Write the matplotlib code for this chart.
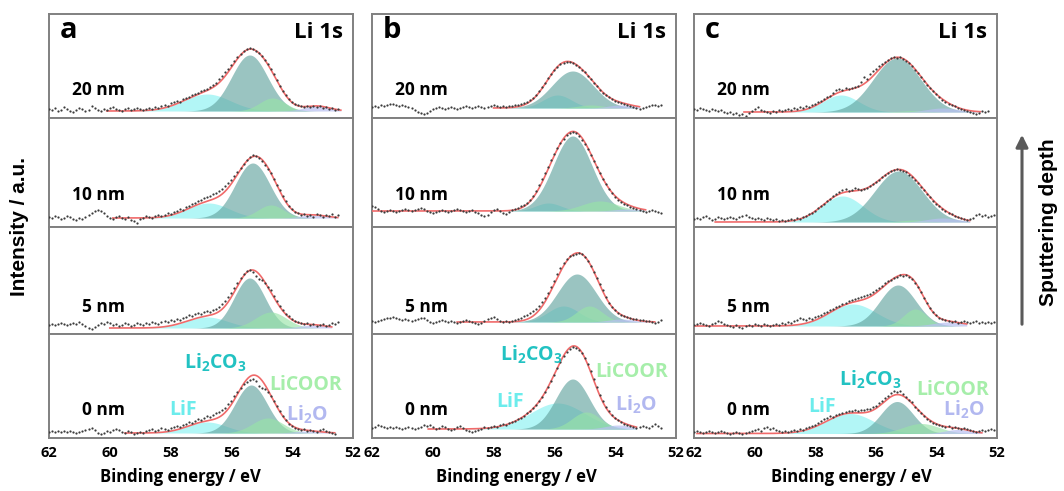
import numpy as np
import matplotlib
matplotlib.use("Agg")
import matplotlib.pyplot as plt

plt.rcParams['font.family'] = ['Open Sans', 'DejaVu Sans']
plt.rcParams['font.weight'] = 'bold'
plt.rcParams['mathtext.fontset'] = 'custom'
plt.rcParams['mathtext.rm'] = 'Open Sans:bold'
plt.rcParams['mathtext.bf'] = 'Open Sans:bold'

# ---------------- data ----------------
columns = ['a', 'b', 'c']
depths = ['20 nm', '10 nm', '5 nm', '0 nm']
x_ticks = [62, 60, 58, 56, 54, 52]
E_START = 62.0   # first binding energy of each scan (eV)
E_STEP = 0.1     # scan step (eV)

# measured intensities (arbitrary units), one list per panel, from 62.0 eV downward
dots_a_20 = [9,8,10,7,8,11,9,7,6,8, 10,9,7,8,12,10,8,7,9,8, 10,11,9,8,7,9,10,8,9,10,
             9,8,9,10,9,11,10,12,13,12, 15,16,17,16,19,20,21,23,24,25, 27,28,29,31,33,35,39,42,46,49,
             53,57,61,64,67,69,70,69,67,65, 62,58,54,49,44,38,32,27,23,19, 16,14,13,12,11,12,11,12,11,12,
             10,11,9,10,8,9]
dots_a_10 = [10,9,11,10,8,9,11,10,8,7, 9,8,10,12,14,16,17,16,14,11, 9,8,10,11,9,8,10,7,6,4,
             8,9,11,10,9,11,12,11,12,14, 13,15,16,18,17,20,21,23,24,26, 27,29,30,31,33,34,36,38,41,44,
             47,51,55,59,63,67,70,72,71,69, 66,62,58,54,48,42,37,31,26,21, 18,15,14,12,13,11,12,10,13,12,
             10,12,11,13,10,12]
dots_a_5 = [9,10,9,10,11,10,9,10,11,10, 12,10,8,6,5,7,9,11,10,12, 11,9,10,8,9,11,10,8,9,11,
            10,9,11,10,12,11,10,12,13,12, 14,13,15,14,16,17,19,18,20,21, 20,22,23,22,24,25,27,30,33,37,
            41,46,51,56,60,63,64,62,58,55, 54,51,47,44,38,33,28,24,20,18, 15,13,12,11,10,11,9,10,8,9,
            10,8,9,11,10,12]
dots_a_0 = [6,7,6,7,6,7,6,7,6,5, 6,7,8,9,10,8,5,4,5,7, 6,8,9,8,6,5,7,6,4,5,
            6,5,7,8,9,7,8,10,9,8, 10,11,12,11,13,14,16,15,17,19, 18,20,22,21,23,25,26,28,30,34,
            37,42,46,50,54,56,58,59,57,52, 50,49,46,42,37,32,27,22,18,14, 12,10,9,8,9,7,8,7,6,8,
            9,7,6,5,4]
dots_b_20 = [11,12,11,13,12,13,14,14,13,12, 13,12,11,10,8,6,5,4,5,7, 9,10,11,10,9,10,11,10,9,10,
             11,12,11,10,11,12,11,10,11,12, 13,12,11,12,11,12,12,13,13,14, 15,16,18,20,23,27,31,35,40,44,
             48,51,54,55,56,56,55,53,51,48, 46,42,39,35,32,28,25,23,21,19, 17,16,15,14,13,12,11,10,9,10,
             11,12,13,13,12,13]
dots_b_10 = [21,20,18,16,15,16,17,16,15,16, 17,18,17,16,17,18,19,18,16,15, 14,15,16,17,16,15,16,17,18,17,
             16,15,16,17,15,14,12,11,12,15, 17,18,16,14,13,15,17,18,19,21, 22,24,27,31,36,42,48,54,60,67,
             73,79,84,88,92,94,95,94,91,87, 83,78,72,66,60,54,48,43,38,34, 30,27,25,23,22,20,19,18,17,16,
             15,16,17,16,15,14]
dots_b_5 = [13,12,13,14,15,16,16,17,16,15, 14,15,14,13,14,15,16,16,14,12, 11,12,13,14,13,12,13,12,11,12,
            13,14,13,12,11,10,11,13,15,16, 17,15,13,12,13,12,13,14,15,16, 18,19,21,23,25,28,32,36,41,47,
            53,60,66,71,75,78,79,80,81,80, 77,73,68,62,56,50,44,37,31,27, 24,21,19,18,17,16,15,15,14,14,
            13,13,12,11,12,14]
dots_b_0 = [10,11,13,12,11,10,11,10,11,10, 9,10,11,10,9,10,11,13,12,13, 11,9,10,12,11,9,8,9,11,12,
            10,8,7,6,7,8,9,11,10,11, 12,11,13,14,13,15,16,17,19,20, 22,25,27,30,33,37,41,46,51,57,
            63,70,76,82,86,89,91,90,88,85, 80,74,67,59,51,43,37,31,27,23, 20,18,16,14,13,12,11,10,11,12,
            11,10,12,14,12,10]
dots_c_20 = [9,8,10,9,8,7,9,8,7,8, 6,5,6,4,5,3,4,2,5,7, 9,11,8,7,6,5,7,6,8,7,
             8,9,8,10,9,11,10,12,11,13, 14,16,17,19,21,22,25,28,29,28, 30,29,30,31,32,36,41,39,44,47,
             49,52,54,56,58,60,61,60,61,59, 57,55,52,48,45,41,37,33,30,27, 24,21,18,16,14,13,12,10,9,8,
             7,6,5,4,5,7,6,7]
dots_c_10 = [8,9,8,10,11,9,7,8,10,9, 8,9,10,9,8,10,11,12,10,9, 8,9,8,7,9,8,7,8,6,7,
             6,7,8,7,9,8,10,11,13,14, 16,19,21,23,26,28,31,33,35,37, 38,36,37,39,38,37,38,39,41,43,
             45,47,50,52,54,56,57,58,57,56, 55,52,50,47,44,40,37,33,30,26, 23,21,18,16,14,13,11,10,9,8,
             7,8,9,12,13,11,12,10,11,12]
dots_c_5 = [9,10,11,10,9,8,10,11,13,12, 10,9,8,7,9,7,6,8,9,8, 10,9,8,10,9,8,9,10,9,11,
            10,12,11,13,14,16,15,14,16,15, 17,18,19,21,22,24,25,27,28,30, 31,33,34,35,36,37,38,39,40,42,
            44,46,48,51,53,54,56,57,59,58, 59,57,55,51,47,42,36,31,26,22, 19,16,15,14,13,12,13,11,12,13,
            12,11,12,13,11,12,11,12,11,12]
dots_c_0 = [6,7,6,5,6,7,6,5,6,7, 6,5,4,5,6,5,4,5,6,7, 8,9,7,10,11,9,10,8,7,6,
            7,6,7,8,7,9,8,10,11,12, 13,15,17,19,20,22,21,23,24,25, 26,27,27,28,27,28,28,29,29,31,
            32,35,37,40,42,45,47,46,47,44, 41,38,36,31,28,25,22,19,17,15, 14,13,12,11,12,10,11,10,9,10,
            9,8,7,6,7,8,7,8,9,8]

# fitted peak parameters per panel (rows 20, 10, 5, 0 nm): [centre eV, height, FWHM eV]
baseline_a = [7, 9, 6, 5]
lif_a     = [[56.8, 17, 1.8], [56.75, 15, 1.6], [56.8, 11, 1.6], [56.8, 11, 1.5]]
li2co3_a  = [[55.4, 56, 1.4], [55.3, 55, 1.35], [55.4, 50, 1.2], [55.35, 48, 1.25]]
licoor_a  = [[54.65, 13, 1.0], [54.7, 13, 1.0], [54.7, 16, 1.2], [54.8, 15, 1.2]]
li2o_a    = [[53.2, 5, 1.0], [53.3, 3, 1.0], [53.3, 3, 1.0], [53.5, 2, 1.0]]
fitrange_a = [[60.1, 52.4], [59.9, 52.5], [60.0, 52.7], [59.5, 52.6]]

baseline_b = [10, 16, 12, 9]
lif_b     = [[55.9, 13, 1.1], [56.2, 8, 1.0], [55.7, 16, 1.2], [55.9, 26, 2.1]]
li2co3_b  = [[55.4, 37, 1.6], [55.4, 75, 1.5], [55.26, 48, 1.5], [55.4, 50, 1.3]]
licoor_b  = [[54.8, 3, 1.0], [54.5, 10, 1.4], [54.85, 16, 1.0], [54.95, 17, 1.1]]
li2o_b    = [[53.8, 3, 1.0], [53.6, 2, 1.0], [53.8, 3, 1.0], [53.9, 4, 1.0]]
fitrange_b = [[58.0, 53.2], [62.0, 53.0], [59.2, 52.7], [60.15, 53.3]]

baseline_c = [6, 5, 8, 4.5]
lif_c     = [[57.15, 17, 1.4], [57.1, 26, 1.6], [56.75, 22, 1.8], [56.85, 20, 1.85]]
li2co3_c  = [[55.3, 54, 1.85], [55.25, 51, 1.85], [55.27, 41, 1.4], [55.3, 32, 1.25]]
licoor_c  = [[54.7, 1.5, 1.0], [54.7, 2, 1.0], [54.7, 17, 0.9], [54.5, 10, 1.4]]
li2o_c    = [[53.8, 4, 1.2], [53.8, 4, 1.2], [53.6, 4, 1.2], [53.3, 4, 1.0]]
fitrange_c = [[60.35, 52.55], [61.3, 52.9], [62.0, 53.0], [61.9, 52.5]]

species = ['LiF', 'Li$_2$CO$_3$', 'LiCOOR', 'Li$_2$O']
# label anchor (eV, height) in the 0 nm panel of each column
label_pos_a = [[57.6, 28], [56.54, 75], [53.55, 53], [53.5, 23]]
label_pos_b = [[57.46, 36], [56.77, 83], [53.45, 66], [53.32, 33]]
label_pos_c = [[57.78, 31], [56.19, 58], [53.48, 48], [53.09, 28]]

dots = {'a': [dots_a_20, dots_a_10, dots_a_5, dots_a_0],
        'b': [dots_b_20, dots_b_10, dots_b_5, dots_b_0],
        'c': [dots_c_20, dots_c_10, dots_c_5, dots_c_0]}
params = {'a': (baseline_a, lif_a, li2co3_a, licoor_a, li2o_a, fitrange_a, label_pos_a),
          'b': (baseline_b, lif_b, li2co3_b, licoor_b, li2o_b, fitrange_b, label_pos_b),
          'c': (baseline_c, lif_c, li2co3_c, licoor_c, li2o_c, fitrange_c, label_pos_c)}

# ---------------- style ----------------
fill_colors = ['#80f0f0', '#66a6a2', '#98e4a8', '#b8c0f2']
fill_alpha = [0.6, 0.66, 0.65, 0.7]
text_colors = ['#6cecec', '#22c2c2', '#a6eeaa', '#b2b8f0']
spine_col = '#808080'

W, H = 1064, 491
col_left = [49, 372, 694]
col_width = [304, 304, 303]
xlabel_center = [180, 516, 851]
row_top = [14, 118, 227, 334]
row_bot = [118, 227, 334, 438]


def gauss(x, p):
    c, h, w = p
    return h * np.exp(-4 * np.log(2) * (x - c) ** 2 / w ** 2)


fig = plt.figure(figsize=(W / 100, H / 100), dpi=100)

for j, col in enumerate(columns):
    base, lif, co3, coor, li2o, frange, lpos = params[col]
    for i in range(4):
        hpx = row_bot[i] - row_top[i]
        ax = fig.add_axes([col_left[j] / W, 1 - row_bot[i] / H, col_width[j] / W, hpx / H])
        ax.set_xlim(62, 52)
        ax.set_ylim(0, hpx)
        ax.set_yticks([])
        ax.set_xticks(x_ticks)
        for s in ax.spines.values():
            s.set_color(spine_col)
            s.set_linewidth(1.4)
        if i == 3:
            ax.tick_params(axis='x', length=0, pad=6, labelsize=10.5, colors='black')
            ax.set_xticklabels([str(t) for t in x_ticks], fontweight='bold')
        else:
            ax.tick_params(axis='x', length=0, labelbottom=False)

        xf = np.linspace(frange[i][0], frange[i][1], 500)
        b = base[i]
        comps = [gauss(xf, lif[i]), gauss(xf, co3[i]), gauss(xf, coor[i]), gauss(xf, li2o[i])]
        order = [1, 0, 2, 3]
        for k in order:
            ax.fill_between(xf, b, b + comps[k], color=fill_colors[k], alpha=fill_alpha[k],
                            linewidth=0, zorder=2 + k * 0.1)
        total = b + sum(comps)
        ax.plot(xf, total, color='#f06a6a', lw=1.2, zorder=4)

        y = np.array(dots[col][i], dtype=float)
        x = E_START - E_STEP * np.arange(len(y))
        ax.plot(x, y, linestyle='none', marker='o', markersize=1.6, color='#3c3c3c',
                markeredgewidth=0, zorder=5)

        ax.text(59.5, [28, 32, 27, 28][i], depths[i], ha='right', va='center',
                fontsize=12.5, fontweight='bold', color='black', zorder=6)
        if i == 0:
            ax.text(0.036, 0.77, col, transform=ax.transAxes, fontsize=21,
                    fontweight='bold', ha='left', va='baseline')
            ax.text(0.967, 0.77, 'Li 1s', transform=ax.transAxes, fontsize=16,
                    fontweight='bold', ha='right', va='baseline')
        if i == 3:
            for k in range(4):
                ax.text(lpos[k][0], lpos[k][1], species[k], ha='center', va='center',
                        fontsize=14, fontweight='bold', color=text_colors[k], zorder=6)

    fig.text(xlabel_center[j] / W, 1 - 477 / H, 'Binding energy / eV',
             ha='center', va='center', fontsize=12, fontweight='bold')

fig.text(20 / W, 1 - 227 / H, 'Intensity / a.u.', rotation=90, ha='center', va='center',
         fontsize=15, fontweight='bold', family=['Liberation Sans', 'DejaVu Sans'])
fig.text(1048 / W, 1 - 222 / H, 'Sputtering depth', rotation=90, ha='center', va='center',
         fontsize=15, fontweight='bold', family=['Liberation Sans', 'DejaVu Sans'])
fig.add_artist(matplotlib.patches.FancyArrowPatch(
    (1022 / W, 1 - 327 / H), (1022 / W, 1 - 132 / H), transform=fig.transFigure,
    arrowstyle='-|>', mutation_scale=18, color='#5a5a5a', lw=2.2))

fig.savefig('out.png', dpi=100)
